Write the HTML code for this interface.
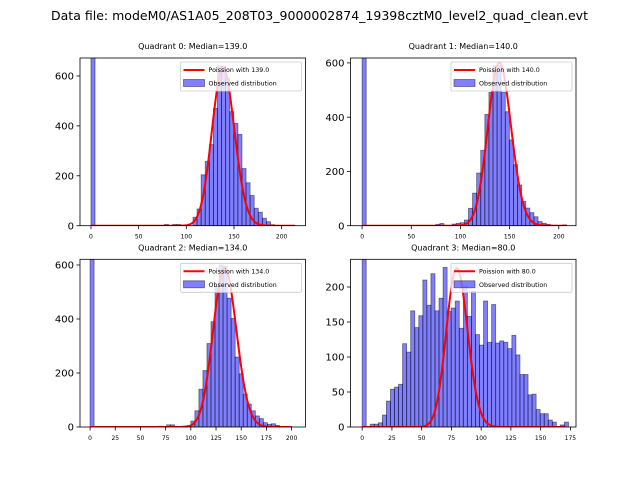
<!DOCTYPE html>
<html><head><meta charset="utf-8"><style>
body{margin:0;background:#fff}
svg{display:block}
text{font-family:"DejaVu Sans","Liberation Sans",sans-serif;fill:#000}
</style></head><body>
<svg id="fig" width="640" height="480" viewBox="0 0 640 480" xmlns="http://www.w3.org/2000/svg">
<rect width="640" height="480" fill="#fff"/>
<text x="51" y="20" font-size="12" textLength="537" lengthAdjust="spacingAndGlyphs">Data file: modeM0/AS1A05_208T03_9000002874_19398cztM0_level2_quad_clean.evt</text>
</svg>
<script>
const q0Counts=[2000,0,0,0,0,0,0,0,0,0,0,0,0,0,0,0,0,0,5,0,5,5,0,0,0,34,67,204,258,325,470,640,640,590,457,410,366,229,172,121,70,54,30,16,4,0,0,0,0,0];
const q1Counts=[2000,0,0,0,0,0,0,0,0,0,0,0,0,0,0,0,0,0,5,8,0,0,6,9,11,21,64,120,194,278,410,491,590,590,491,420,316,225,150,90,65,48,33,15,9,5,0,0,0,3];
const q2Counts=[2000,0,0,0,0,0,0,0,0,0,0,0,0,0,0,0,0,3,0,8,8,0,0,3,5,22,60,140,209,309,390,520,600,595,477,402,259,197,122,85,60,41,31,16,10,12,6,0,0,0];
const q3Counts=[1000,0,4,4,6,17,37,54,57,61,119,107,166,142,159,210,174,219,166,184,228,165,170,180,141,201,158,194,132,117,180,121,175,120,123,121,112,131,103,75,75,46,47,25,19,19,10,7,0,3,7];
const medians=[139,140,134,80];
const binWidths=[4.28,4.16,4.0,3.4];
const curveTotals=[4355,4280,4280,1497];
const curveMax=[214,208,200,170];
const xTickLabels=[[0,50,100,150,200],[0,50,100,150,200],[0,25,50,75,100,125,150,175,200],[0,25,50,75,100,125,150,175]];
const yTickLabels=[[0,200,400,600],[0,200,400,600],[0,200,400,600],[0,50,100,150,200]];
const xLims=[[-11.5,225],[-11.8,217.5],[-10,213.8],[-9.8,179.7]];
const yLims=[[0,672],[0,618],[0,621],[0,239.6]];
const allCounts=[q0Counts,q1Counts,q2Counts,q3Counts];
const boxes=[[80,58,225.5,167.7],[350.5,58,225.5,167.7],[80,259.3,225.5,167.7],[350.5,259.3,225.5,167.7]];

const NS="http://www.w3.org/2000/svg";
const svg=document.getElementById('fig');
function mk(tag,attrs,parent){const e=document.createElementNS(NS,tag);for(const k in attrs)e.setAttribute(k,attrs[k]);(parent||svg).appendChild(e);return e;}
function lgamma(z){const g=7,c=[0.99999999999980993,676.5203681218851,-1259.1392167224028,771.32342877765313,-176.61502916214059,12.507343278686905,-0.13857109526572012,9.9843695780195716e-6,1.5056327351493116e-7];
 if(z<0.5)return Math.log(Math.PI/Math.abs(Math.sin(Math.PI*z)))-lgamma(1-z);z-=1;let a=c[0];const t=z+g+0.5;for(let i=1;i<g+2;i++)a+=c[i]/(z+i);return 0.5*Math.log(2*Math.PI)+(z+0.5)*Math.log(t)-t+Math.log(a);}
function pois(k,l){return Math.exp(k*Math.log(l)-l-lgamma(k+1));}

for(let p=0;p<4;p++){
 const [L,T,W,H]=boxes[p];
 const xl=xLims[p],yl=yLims[p];
 const X=v=>L+(v-xl[0])/(xl[1]-xl[0])*W;
 const Y=v=>T+H-(v-yl[0])/(yl[1]-yl[0])*H;
 const g=mk('g',{});
 
 
 const cp=mk('clipPath',{id:'clip'+p},g);mk('rect',{x:L,y:T,width:W,height:H},cp);
 const bars=mk('g',{'clip-path':'url(#clip'+p+')'},g);
 const counts=allCounts[p],bw=binWidths[p];
 counts.forEach((c,i)=>{ if(c<=0)return;
  const x0=X(i*bw),x1=X((i+1)*bw),y=Y(c);
  const r=mk('rect',{x:x0,y:y,width:x1-x0,height:Y(0)-y,fill:'rgba(0,0,255,0.5)',stroke:'rgba(0,0,0,0.5)','stroke-width':0.8},bars);
  
  
 });
 let d='';const lam=medians[p];
 for(let k=0;k<=curveMax[p];k+=0.5){const v=curveTotals[p]*bw*pois(k,lam);d+=(k===0?'M':'L')+X(k).toFixed(2)+','+Y(v).toFixed(2);}
 const line=mk('path',{d:d,fill:'none',stroke:'#ff0000','stroke-width':2},bars);
 
 
 mk('rect',{x:L,y:T,width:W,height:H,fill:'none',stroke:'#000','stroke-width':0.8},g);
 xTickLabels[p].forEach(v=>{const x=X(v);mk('line',{x1:x,x2:x,y1:T+H,y2:T+H+3.5,stroke:'#000','stroke-width':0.8},g);
  const t=mk('text',{x:x,y:T+H+13,'font-size':6,'text-anchor':'middle'},g);t.textContent=v;
  
  });
 yTickLabels[p].forEach(v=>{const y=Y(v);mk('line',{x1:L-3.5,x2:L,y1:y,y2:y,stroke:'#000','stroke-width':0.8},g);
  const t=mk('text',{x:L-6,y:y+3.6,'font-size':10,'text-anchor':'end'},g);t.textContent=v;
  
  });
 const tt=mk('text',{x:L+W/2,y:T-9,'font-size':8,'text-anchor':'middle'},g);
 tt.textContent='Quadrant '+p+': Median='+lam.toFixed(1);
 
 
 const lg=mk('g',{},g);
 
 
 const lx=L+W-125,ly=T+4;
 mk('rect',{x:lx,y:ly,width:121,height:29,fill:'rgba(255,255,255,0.8)',stroke:'#ccc','stroke-width':0.8,rx:1.5},lg);
 mk('line',{x1:lx+3,x2:lx+24,y1:ly+8,y2:ly+8,stroke:'#ff0000','stroke-width':2},lg);
 const t1=mk('text',{x:lx+28,y:ly+10,'font-size':6.3},lg);t1.textContent='Poission with '+lam.toFixed(1);
 mk('rect',{x:lx+3,y:ly+17.5,width:21,height:7,fill:'rgba(0,0,255,0.5)',stroke:'rgba(0,0,0,0.5)','stroke-width':0.8},lg);
 const t2=mk('text',{x:lx+28,y:ly+23.5,'font-size':6.3},lg);t2.textContent='Observed distribution';
}
</script>
</body></html>
